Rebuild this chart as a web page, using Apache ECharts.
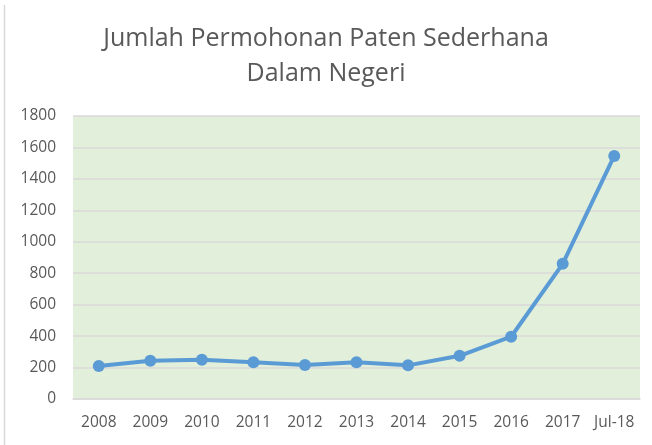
<!DOCTYPE html>
<html>
<head>
<meta charset="utf-8">
<script src="https://cdn.jsdelivr.net/npm/echarts@6/dist/echarts.min.js"></script>
<style>
	html, body { margin: 0; padding: 0; background: #fff; }
	#main { width: 652px; height: 445px; }
</style>
</head>
<body>
<div id="main"></div>
<script>
// data
var years = ['2008', '2009', '2010', '2011', '2012', '2013', '2014', '2015', '2016', '2017', 'Jul-18'];
var counts = [210, 243, 250, 233, 216, 233, 214, 275, 396, 860, 1546];
var yTicks = [0, 200, 400, 600, 800, 1000, 1200, 1400, 1600, 1800];

var textColor = '#595959';
var fontName = '"Open Sans", "Liberation Sans", sans-serif';

var option = {
	animation: false,
	backgroundColor: '#fff',
	title: {
		text: 'Jumlah Permohonan Paten Sederhana\nDalam Negeri',
		left: 'center',
		top: 16,
		textStyle: {
			color: textColor,
			fontFamily: fontName,
			fontWeight: 'normal',
			fontSize: 25,
			lineHeight: 35
		}
	},
	graphic: [{
		type: 'line',
		shape: { x1: 4.5, y1: 5, x2: 4.5, y2: 445 },
		style: { stroke: '#d9d9d9', lineWidth: 1.5 }
	}],
	grid: {
		left: 73,
		right: 12,
		top: 116,
		bottom: 46,
		show: true,
		backgroundColor: '#e2efda',
		borderWidth: 0
	},
	xAxis: {
		type: 'category',
		data: years,
		boundaryGap: true,
		axisLine: { show: true, lineStyle: { color: '#d9d9d9', width: 1.5 } },
		axisTick: { show: false },
		axisLabel: {
			interval: 0,
			color: textColor,
			fontFamily: fontName,
			fontSize: 15.5,
			margin: 16
		}
	},
	yAxis: {
		type: 'value',
		min: yTicks[0],
		max: yTicks[yTicks.length - 1],
		interval: 200,
		axisLine: { show: false },
		axisTick: { show: false },
		axisLabel: {
			color: textColor,
			fontFamily: fontName,
			fontSize: 15.5,
			margin: 17,
			formatter: function(v) { return String(v); }
		},
		splitLine: {
			show: true,
			lineStyle: { color: '#d9d9d9', width: 1.5 }
		}
	},
	series: [{
		name: 'Permohonan',
		type: 'line',
		data: counts,
		symbol: 'circle',
		symbolSize: 12,
		lineStyle: { color: '#5b9bd5', width: 4 },
		itemStyle: { color: '#5b9bd5' }
	}]
};

var myChart = echarts.init(document.getElementById('main'));
myChart.setOption(option);
</script>
</body>
</html>
